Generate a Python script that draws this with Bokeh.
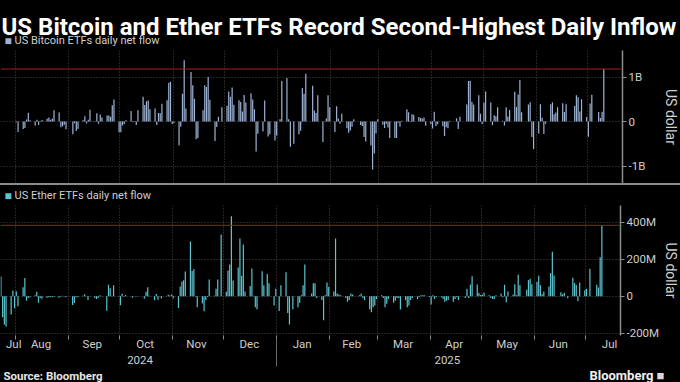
import numpy as np
import pandas as pd
from math import pi
from bokeh.plotting import figure
from bokeh.models import (Range1d, LinearAxis, FixedTicker, Grid, Span, Label,
                          ColumnDataSource, GlobalInlineStyleSheet, Spacer)
from bokeh.layouts import column, row
from bokeh.embed import file_html
from bokeh.resources import INLINE

# ---------------- data (US$ millions, daily net flows) ----------------
month_keys = ["2024-07", "2024-08", "2024-09", "2024-10", "2024-11", "2024-12",
              "2025-01", "2025-02", "2025-03", "2025-04", "2025-05", "2025-06", "2025-07"]

market_holidays = ["2024-09-02", "2024-11-28", "2024-12-25", "2025-01-01", "2025-01-09",
                   "2025-01-20", "2025-02-17", "2025-04-18", "2025-05-26", "2025-06-19",
                   "2025-07-04"]

btc_2024_07 = [None, None, None, None, None, None, None]
btc_2024_08 = [-18, -237, -168, -148, 45, 195, 28, -90, 39, -81, 11, 33, 62, 88, 39, 65, 252, 203, -127, -105, -72, -175]
btc_2024_09 = [-288, -37, -211, -170, 29, 117, -43, 39, 263, 13, 187, -53, 158, 93, 136, 137, 106, 366, 494, -243]
btc_2024_10 = [-242, -92, -54, 26, 235, -19, -9, -81, 254, 556, 371, 458, 471, 274, 294, -79, 192, 188, 402, 479, 870, 893, -55]
btc_2024_11 = [-35, -541, -117, 622, 1376, 294, 1114, 817, 510, -401, -371, 255, 816, 773, 1000, 490, -438, -123, 105, 320]
btc_2024_12 = [354, 677, 557, 767, 376, 479, 438, 223, 597, 429, 637, 493, 275, -672, -277, -227, 475, -338, -288, -426, -312]
btc_2025_01 = [52, 908, 979, 52, -569, -500, -284, -209, 755, 626, 1072, 803, 249, 189, 588, -458, 4, 70, 588, 318]
btc_2025_02 = [-235, 341, 67, -50, 172, -150, -250, -200, -120, 50, -80, -100, -350, -450, -540, -1080, -720, -270, 50]
btc_2025_03 = [-74, -143, -50, -134, -370, -371, -371, -30, -120, 20, 274, 209, 11, 165, 150, 100, 80, 70, 89, -93, -60]
btc_2025_04 = [-157, 220, -100, -64, -109, -326, -127, -150, 15, 1, 76, -170, 107, 381, 912, 917, 442, 381, 591, 173, -56]
btc_2025_05 = [422, 675, 425, -86, 142, 117, 321, 17, -91, 320, 115, 260, 667, 329, 608, 934, 211, 385, 432, -347, -616]
btc_2025_06 = [-268, 387, 86, -278, -48, 386, 431, 165, 200, 322, 408, 216, 389, 6, 350, 589, 548, 226, 501, 102]
btc_2025_07 = [-342, 407, 602, 216, 80, 218, 1180]

eth_2024_07 = [107, -113, -152, -163, -98, 30, -65]
eth_2024_08 = [27, -54, 49, 98, -24, -10, -5, 5, 24, -35, -10, -13, -8, -6, -6, -5, -4, -8, -3, 2, -2, -5]
eth_2024_09 = [-47, -37, -5, -5, 3, 11, 1, -20, 1, -10, -15, -10, 5, -1, -79, 62, 43, 3, 59, 1]
eth_2024_10 = [-49, 14, -3, 7, 0, -8, 1, -2, 1, 0, -13, 24, 48, 2, -21, 12, -19, -2, -12, -1, 8, 4, 10]
eth_2024_11 = [-11, -63, 52, 80, 86, 133, 296, 136, 147, -3, -60, -39, -81, -20, -4, 91, 3, 40, 90, 333]
eth_2024_12 = [24, 139, 171, 432, 85, 155, 312, 110, 279, 25, 55, 150, 3, -60, -70, 135, 60, 120, 70, -50, 40]
eth_2025_01 = [-80, 60, 130, -90, -153, -70, -60, -35, 5, 60, 171, 15, 70, 70, -10, -20, -130, 5, 74, 50]
eth_2025_02 = [25, 312, 15, 10, 5, -10, -30, -20, 15, 10, 5, 15, -10, -20, -70, -86, -60, -50, -15]
eth_2025_03 = [5, -10, -60, -40, -15, -35, -25, -10, -10, -71, -20, -60, -50, -20, -10, -15, -5, 5, 5, 5, -4]
eth_2025_04 = [-45, 5, -15, -5, -5, -15, -30, -25, -20, -30, -15, -5, -20, -10, 40, -10, 63, 108, 64, 18, 7]
eth_2025_05 = [10, 20, 5, -10, -15, -15, 5, 15, -5, 62, -32, 25, 10, 65, 5, 116, 60, 35, 88, 95, 65]
eth_2025_06 = [78, 110, 60, 11, 25, 53, 125, 240, 112, -2, 21, 11, 19, -11, 100, 71, 61, -26, 74, 32]
eth_2025_07 = [41, -2, 149, 62, 47, 211, 383]

btc_by_month = [btc_2024_07, btc_2024_08, btc_2024_09, btc_2024_10, btc_2024_11, btc_2024_12,
                btc_2025_01, btc_2025_02, btc_2025_03, btc_2025_04, btc_2025_05, btc_2025_06, btc_2025_07]
eth_by_month = [eth_2024_07, eth_2024_08, eth_2024_09, eth_2024_10, eth_2024_11, eth_2024_12,
                eth_2025_01, eth_2025_02, eth_2025_03, eth_2025_04, eth_2025_05, eth_2025_06, eth_2025_07]

month_starts = ["2024-08-01", "2024-09-01", "2024-10-01", "2024-11-01", "2024-12-01", "2025-01-01",
                "2025-02-01", "2025-03-01", "2025-04-01", "2025-05-01", "2025-06-01", "2025-07-01"]
month_label_dates = ["2024-07-31", "2024-08-16", "2024-09-15", "2024-10-16", "2024-11-15", "2024-12-16",
                     "2025-01-16", "2025-02-14", "2025-03-16", "2025-04-15", "2025-05-16", "2025-06-15",
                     "2025-07-15"]
month_labels = ["Jul", "Aug", "Sep", "Oct", "Nov", "Dec", "Jan", "Feb", "Mar", "Apr", "May", "Jun", "Jul"]
year_label_dates = ["2024-10-13", "2025-04-11"]
year_labels = ["2024", "2025"]
year_break = ["2025-01-01"]

btc_ticks = [-1000, 0, 1000]
btc_tick_labels = ["-1B", "0", "1B"]
eth_ticks = [-200, 0, 200, 400]
eth_tick_labels = ["-200M", "0", "200M", "400M"]

TITLE = "US Bitcoin and Ether ETFs Record Second-Highest Daily Inflow"
BTC_LEGEND = "US Bitcoin ETFs daily net flow"
ETH_LEGEND = "US Ether ETFs daily net flow"
Y_LABEL = "US dollar"

# ---------------- assemble ----------------
def to_ms(values):
    idx = pd.DatetimeIndex(pd.to_datetime(values))
    return [float(v) for v in (idx - pd.Timestamp(0)) / pd.Timedelta(milliseconds=1)]

trading_days = pd.bdate_range("2024-07-23", "2025-07-10", freq="C", holidays=market_holidays)
all_days, btc_vals, eth_vals = [], [], []
for key, b, e in zip(month_keys, btc_by_month, eth_by_month):
    days = trading_days[trading_days.strftime("%Y-%m") == key]
    if not (len(days) == len(b) == len(e)):
        raise ValueError(f"{key}: {len(days)} days, {len(b)} btc, {len(e)} eth")
    all_days.extend(days)
    btc_vals.extend(b)
    eth_vals.extend(e)

btc_arr = np.array(btc_vals, dtype=float)
eth_arr = np.array(eth_vals, dtype=float)
bar_x = np.array(to_ms(pd.DatetimeIndex(all_days) + pd.Timedelta(hours=12)))
src = ColumnDataSource(dict(x=bar_x, btc=btc_arr, eth=eth_arr))

DAY = 86400000.0
BAR_W = 0.7 * DAY

W = 680
LAB_W = 18
CH_W = W - LAB_W       # chart figure width (frame 622 + tick labels)
RIGHT = CH_W - 622
BG = "#000000"
BTC_COLOR = "#9db3d4"
ETH_COLOR = "#5cc5d0"
TXT = "#cfcfcf"
GRID = "#4a4a4a"
AXIS = "#8c8c8c"
RED = "#a81c1c"
SANS = "Roboto"

x_range = Range1d(to_ms(["2024-07-23 06:00"])[0], to_ms(["2025-07-21 10:00"])[0])


def base_fig(width, height, yr, xr, right=0, bottom=0):
    return figure(width=width, height=height, x_range=xr, y_range=yr,
                  x_axis_type=None, y_axis_type=None, title=None,
                  output_backend="svg", toolbar_location=None,
                  min_border_left=0, min_border_right=right,
                  min_border_top=0, min_border_bottom=bottom,
                  background_fill_color=BG, border_fill_color=BG, outline_line_color=None)


def text_fig(width, height):
    p = base_fig(width, height, Range1d(0, height), Range1d(0, width))
    try:
        p.frame_align = False
    except Exception:
        pass
    return p


def right_axis(p, ticks, labels):
    ax = LinearAxis(ticker=FixedTicker(ticks=ticks),
                    major_label_overrides={t: l for t, l in zip(ticks, labels)})
    ax.axis_line_color = AXIS
    ax.axis_line_width = 1.5
    ax.major_tick_line_color = AXIS
    ax.major_tick_out = 4
    ax.major_tick_in = 0
    ax.minor_tick_line_color = None
    ax.minor_tick_out = 0
    ax.major_label_text_color = TXT
    ax.major_label_text_font = SANS
    ax.major_label_text_font_size = "11.5px"
    ax.major_label_standoff = 2
    p.add_layout(ax, "right")


def add_grids(p, yticks):
    p.add_layout(Grid(dimension=0, ticker=FixedTicker(ticks=to_ms(month_starts)),
                      grid_line_color=GRID, grid_line_dash="1 2", level="underlay"))
    p.add_layout(Grid(dimension=1, ticker=FixedTicker(ticks=yticks),
                      grid_line_color=GRID, grid_line_dash="1 2", level="underlay"))


def legend_labels(p, y, color, text):
    p.add_layout(Label(x=4, y=y, x_units="screen", y_units="screen", text="■",
                       text_font=SANS, text_font_size="12px", text_color=color,
                       text_baseline="middle"))
    p.add_layout(Label(x=14, y=y, x_units="screen", y_units="screen", text=text,
                       text_font=SANS, text_font_size="11px", text_color=TXT,
                       text_baseline="middle"))


def ylabel_fig(height, center_from_bottom):
    p = text_fig(LAB_W, height)
    p.add_layout(Label(x=8, y=center_from_bottom, x_units="screen", y_units="screen",
                       text=Y_LABEL, angle=-pi / 2, text_align="center", text_baseline="middle",
                       text_font=SANS, text_font_size="14px", text_color=TXT))
    return p


# ---------- header with title and bitcoin legend ----------
head1 = text_fig(W, 50)
head1.add_layout(Label(x=1, y=24, x_units="screen", y_units="screen", text=TITLE,
                       text_font=SANS, text_font_style="bold", text_font_size="24px",
                       text_color="#ffffff", text_baseline="alphabetic"))
legend_labels(head1, 10, BTC_COLOR, BTC_LEGEND)

# ---------- bitcoin panel ----------
H1 = 133
p1 = base_fig(CH_W, H1, Range1d(-1393, 1596), x_range, right=RIGHT)
add_grids(p1, btc_ticks)
p1.vbar(x="x", top="btc", width=BAR_W, source=src, fill_color=BTC_COLOR, line_color=None)
p1.add_layout(Span(location=btc_arr[-1], dimension="width", line_color=RED, line_width=1))
right_axis(p1, btc_ticks, btc_tick_labels)
lab1 = ylabel_fig(H1, H1 / 2)

sep = Spacer(width=W, height=2, styles={"background-color": "#8a8a8a"})

# ---------- ether legend ----------
head2 = text_fig(W, 20)
legend_labels(head2, 10, ETH_COLOR, ETH_LEGEND)

# ---------- ether panel with the time axis ----------
H2, B2 = 162, 32
p2 = base_fig(CH_W, H2, Range1d(-212, 490), x_range, right=RIGHT, bottom=B2)
add_grids(p2, eth_ticks)
p2.vbar(x="x", top="eth", width=BAR_W, source=src, fill_color=ETH_COLOR, line_color=None)
p2.add_layout(Span(location=eth_arr[-1], dimension="width", line_color=RED, line_width=1))
right_axis(p2, eth_ticks, eth_tick_labels)
lab2 = ylabel_fig(H2, B2 + (H2 - B2) / 2)

ms_mlabels = to_ms(month_label_dates)
ax_months = LinearAxis(ticker=FixedTicker(ticks=ms_mlabels, minor_ticks=to_ms(month_starts)),
                       major_label_overrides={t: l for t, l in zip(ms_mlabels, month_labels)})
ax_months.axis_line_color = None
ax_months.major_tick_line_color = None
ax_months.major_tick_out = 0
ax_months.major_tick_in = 0
ax_months.minor_tick_line_color = AXIS
ax_months.minor_tick_out = 4
ax_months.minor_tick_in = 0
ax_months.major_label_text_color = TXT
ax_months.major_label_text_font = SANS
ax_months.major_label_text_font_size = "11.5px"
ax_months.major_label_standoff = -3
p2.add_layout(ax_months, "below")

ms_ylabels = to_ms(year_label_dates)
ax_years = LinearAxis(ticker=FixedTicker(ticks=ms_ylabels),
                      major_label_overrides={t: l for t, l in zip(ms_ylabels, year_labels)})
ax_years.axis_line_color = None
ax_years.major_tick_line_color = None
ax_years.major_tick_out = 0
ax_years.major_tick_in = 0
ax_years.minor_tick_line_color = None
ax_years.minor_tick_out = 0
ax_years.major_label_text_color = TXT
ax_years.major_label_text_font = SANS
ax_years.major_label_text_font_size = "11.5px"
ax_years.major_label_standoff = 2
p2.add_layout(ax_years, "below")

ax_sep = LinearAxis(ticker=FixedTicker(ticks=[], minor_ticks=to_ms(year_break)))
ax_sep.axis_line_color = None
ax_sep.major_tick_line_color = None
ax_sep.major_tick_out = 0
ax_sep.major_tick_in = 0
ax_sep.minor_tick_line_color = "#6a6a6a"
ax_sep.minor_tick_in = 28
ax_sep.minor_tick_out = 0
ax_sep.major_label_standoff = 0
p2.add_layout(ax_sep, "below")

# ---------- footer ----------
foot = text_fig(W, 15)
foot.add_layout(Label(x=3, y=7, x_units="screen", y_units="screen", text="Source: Bloomberg",
                      text_font=SANS, text_font_style="bold", text_font_size="11.5px",
                      text_color="#e6e6e6", text_baseline="middle"))
foot.add_layout(Label(x=653, y=7, x_units="screen", y_units="screen", text="Bloomberg",
                      text_font=SANS, text_font_style="bold", text_font_size="13px",
                      text_color="#f0f0f0", text_baseline="middle", text_align="right"))
foot.add_layout(Label(x=656, y=7, x_units="screen", y_units="screen", text="■",
                      text_font=SANS, text_font_size="13px",
                      text_color="#d8d8d8", text_baseline="middle"))

layout = column(head1, row(p1, lab1, spacing=0), sep, head2, row(p2, lab2, spacing=0), foot,
                spacing=0, width=W,
                stylesheets=[GlobalInlineStyleSheet(css="html, body { background-color: #000000; }")])

open("out.html", "w").write(file_html(layout, INLINE))
